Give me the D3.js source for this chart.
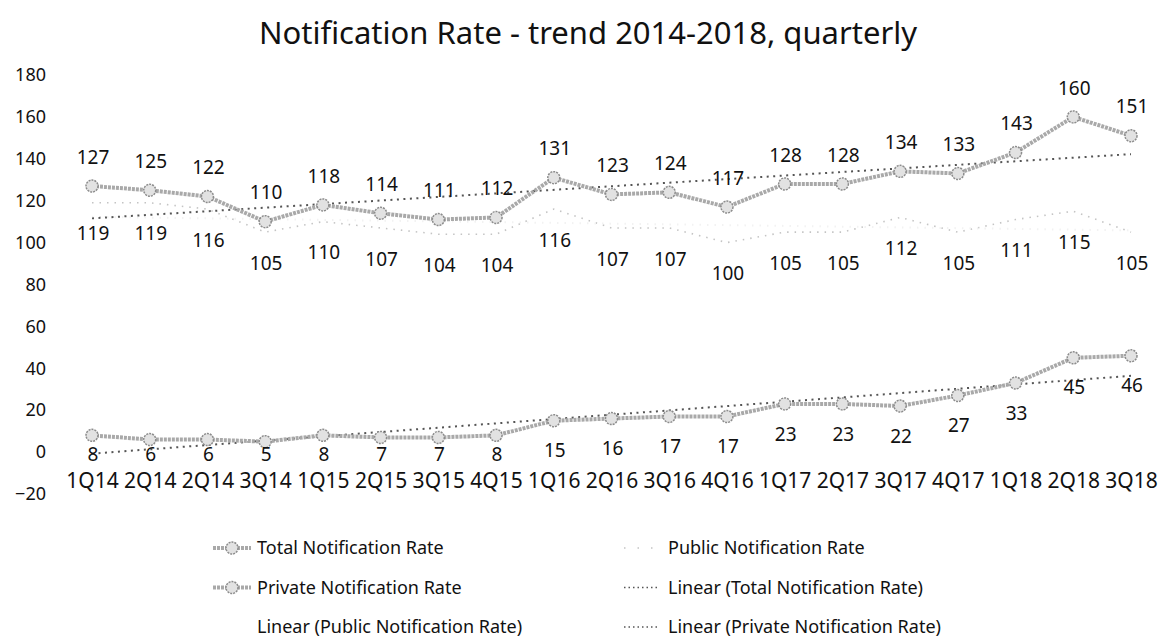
<!DOCTYPE html>
<html>
<head>
<meta charset="utf-8">
<script src="https://cdn.jsdelivr.net/npm/d3@7"></script>
<style>
  body { margin: 0; background: #fff; }
</style>
</head>
<body>
<div id="chart"></div>
<script>
// quarter labels as printed on the chart (2Q14 really appears twice)
const quarters = ['1Q14', '2Q14', '2Q14', '3Q14', '1Q15', '2Q15', '3Q15', '4Q15', '1Q16', '2Q16',
                  '3Q16', '4Q16', '1Q17', '2Q17', '3Q17', '4Q17', '1Q18', '2Q18', '3Q18'];
const totalRate = [127, 125, 122, 110, 118, 114, 111, 112, 131, 123, 124, 117, 128, 128, 134, 133, 143, 160, 151];
const publicRate = [119, 119, 116, 105, 110, 107, 104, 104, 116, 107, 107, 100, 105, 105, 112, 105, 111, 115, 105];
const privateRate = [8, 6, 6, 5, 8, 7, 7, 8, 15, 16, 17, 17, 23, 23, 22, 27, 33, 45, 46];
const yTicks = [-20, 0, 20, 40, 60, 80, 100, 120, 140, 160, 180];
const legendItems = [
    { label: 'Total Notification Rate', kind: 'marker' },
    { label: 'Public Notification Rate', kind: 'faint' },
    { label: 'Private Notification Rate', kind: 'marker' },
    { label: 'Linear (Total Notification Rate)', kind: 'trend' },
    { label: 'Linear (Public Notification Rate)', kind: 'none' },
    { label: 'Linear (Private Notification Rate)', kind: 'trend' }
];

const width = 1164;
const height = 644;
const font = 'Noto Sans, Open Sans, sans-serif';

const x = d3.scaleLinear()
    .domain([0, quarters.length - 1])
    .range([92, 1131]);

const y = d3.scaleLinear()
    .domain([-20, 180])
    .range([494, 75]);

const svg = d3.select('#chart')
    .append('svg')
    .attr('width', width)
    .attr('height', height);

// title
svg.append('text')
    .attr('x', 588)
    .attr('y', 44)
    .attr('text-anchor', 'middle')
    .attr('font-family', font)
    .attr('font-size', '31px')
    .attr('fill', '#111')
    .text('Notification Rate - trend 2014-2018, quarterly');

// y axis, labels only
svg.append('g')
    .attr('transform', 'translate(46, 0)')
    .call(d3.axisLeft(y).tickValues(yTicks).tickSize(0).tickPadding(0))
    .call(g => g.select('.domain').remove())
    .selectAll('text')
    .attr('font-family', font)
    .attr('font-size', '18px')
    .attr('fill', '#111');

// x axis, labels only
svg.append('g')
    .attr('transform', `translate(0, ${y(0) + 21})`)
    .call(d3.axisBottom(x)
        .tickValues(d3.range(quarters.length))
        .tickFormat(i => quarters[i])
        .tickSize(0).tickPadding(0))
    .call(g => g.select('.domain').remove())
    .selectAll('text')
    .attr('font-family', font)
    .attr('font-size', '21px')
    .attr('fill', '#111');

// least squares fit, same as Excel's linear trendline
function linearFit(values) {
    const n = values.length;
    const mx = (n - 1) / 2;
    const my = d3.mean(values);
    let sxy = 0, sxx = 0;
    values.forEach((v, i) => { sxy += (i - mx) * (v - my); sxx += (i - mx) * (i - mx); });
    const slope = sxy / sxx;
    return i => my + slope * (i - mx);
}

const line = d3.line()
    .x((d, i) => x(i))
    .y(d => y(d));

function trendLine(values, color, dash) {
    const f = linearFit(values);
    svg.append('line')
        .attr('x1', x(0))
        .attr('y1', y(f(0)))
        .attr('x2', x(values.length - 1))
        .attr('y2', y(f(values.length - 1)))
        .attr('stroke', color)
        .attr('stroke-width', 2)
        .attr('stroke-dasharray', dash);
}

// public series is barely visible in the scan
svg.append('path')
    .datum(publicRate)
    .attr('fill', 'none')
    .attr('stroke', '#c4c4c4')
    .attr('stroke-width', 1.6)
    .attr('stroke-dasharray', '1.5,6')
    .attr('d', line);

trendLine(publicRate, '#f2f2f2', '1.5,6');
trendLine(totalRate, '#555', '2,4.5');
trendLine(privateRate, '#555', '2,4.5');

function markerSeries(values) {
    svg.append('path')
        .datum(values)
        .attr('fill', 'none')
        .attr('stroke', '#a9a9a9')
        .attr('stroke-width', 4)
        .attr('stroke-dasharray', '3,1')
        .attr('d', line);

    svg.append('g')
        .selectAll('circle')
        .data(values)
        .join('circle')
        .attr('cx', (d, i) => x(i))
        .attr('cy', d => y(d))
        .attr('r', 6)
        .attr('fill', '#e2e2e2')
        .attr('stroke', '#8c8c8c')
        .attr('stroke-width', 1.5)
        .attr('stroke-dasharray', '2,1');
}

markerSeries(totalRate);
markerSeries(privateRate);

// data labels
function dataLabels(values, dy) {
    svg.append('g')
        .selectAll('text')
        .data(values)
        .join('text')
        .attr('x', (d, i) => x(i) + 1)
        .attr('y', d => dy(d))
        .attr('dy', '0.35em')
        .attr('text-anchor', 'middle')
        .attr('font-family', font)
        .attr('font-size', '19px')
        .attr('fill', '#111')
        .text(d => d);
}

dataLabels(totalRate, d => y(d) - 29);
dataLabels(publicRate, d => y(d) + 31);
dataLabels(privateRate, d => Math.min(y(d) + 30, y(0) + 2));

// legend: two columns, three rows
const legend = svg.append('g')
    .selectAll('g')
    .data(legendItems)
    .join('g')
    .attr('transform', (d, i) => `translate(${i % 2 ? 624 : 213}, ${548 + Math.floor(i / 2) * 39.5})`);

legend.filter(d => d.kind === 'marker')
    .call(g => g.append('line')
        .attr('x1', 0).attr('x2', 38)
        .attr('stroke', '#a9a9a9')
        .attr('stroke-width', 4)
        .attr('stroke-dasharray', '3,1'))
    .call(g => g.append('circle')
        .attr('cx', 19)
        .attr('r', 6)
        .attr('fill', '#e2e2e2')
        .attr('stroke', '#8c8c8c')
        .attr('stroke-width', 1.5)
        .attr('stroke-dasharray', '2,1'));

legend.filter(d => d.kind === 'trend')
    .append('line')
    .attr('x1', 0).attr('x2', 34)
    .attr('stroke', '#555')
    .attr('stroke-width', 1.5)
    .attr('stroke-dasharray', '1.5,3');

legend.filter(d => d.kind === 'faint')
    .append('line')
    .attr('x1', 0).attr('x2', 34)
    .attr('stroke', '#c4c4c4')
    .attr('stroke-width', 1.5)
    .attr('stroke-dasharray', '1.5,12');

legend.append('text')
    .attr('x', 44)
    .attr('dy', '0.35em')
    .attr('font-family', font)
    .attr('font-size', '18px')
    .attr('fill', '#111')
    .text(d => d.label);
</script>
</body>
</html>
